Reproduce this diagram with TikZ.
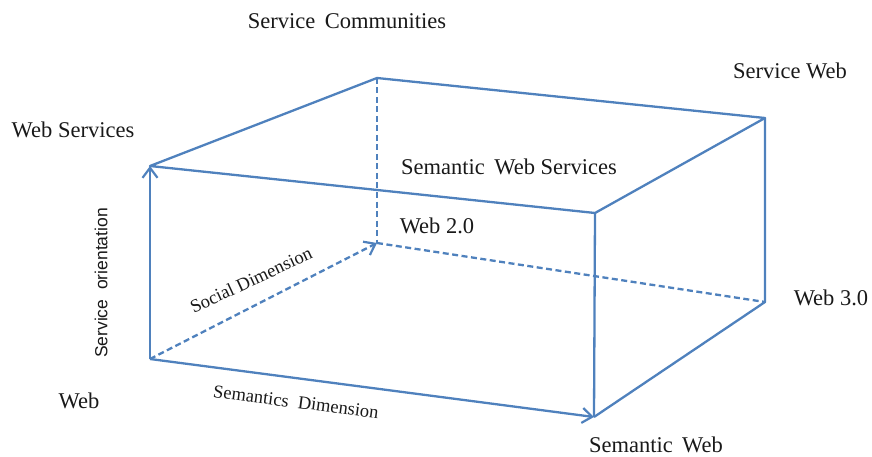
\documentclass[tikz,border=0pt]{standalone}
\usepackage{fontspec}
\setmainfont{Liberation Serif}
\newfontfamily\axisfont{Liberation Sans}
\usetikzlibrary{arrows.meta}
\definecolor{edgeblue}{RGB}{79,129,189}
\begin{document}
\begin{tikzpicture}[x=1pt,y=-1pt,
  edge/.style={draw=edgeblue, line width=2.3pt, line join=round},
  hidden/.style={edge, dash pattern=on 6pt off 3.5pt},
  axis/.style={-{Straight Barb[length=10pt,width=15pt,line width=2.2pt]}},
  lbl/.style={font=\fontsize{22.5}{26}\selectfont, inner sep=0pt, text=black!90},
  dimlbl/.style={font=\fontsize{18.5}{22}\selectfont, inner sep=0pt, text=black!90}]
\useasboundingbox (0,0) rectangle (872,457);

% corners of the box
\coordinate (O)   at (150,359);
\coordinate (FTL) at (150,166);
\coordinate (FBR) at (594,417);
\coordinate (FTR) at (595,213);
\coordinate (BBL) at (377,243);
\coordinate (BTL) at (377,78);
\coordinate (BTR) at (765,118);
\coordinate (BBR) at (765,302);

% hidden edges
\draw[hidden] (BTL) -- (BBL);
\draw[hidden] (BBL) -- (BBR);
\draw[hidden, axis] (O) -- (BBL);

% visible edges
\draw[edge] (FTL) -- (BTL) -- (BTR) -- (FTR) -- cycle;
\draw[edge] (FTR) -- (FBR);
\draw[edge] (BTR) -- (BBR) -- (FBR);
\draw[edge, axis] (O) -- (FTL);
\draw[edge, axis] (O) -- (FBR);

% corner labels
\node[lbl] (lcomm) at (347,21)  {Service\, Communities};
\node[lbl] (lsweb) at (790,71)  {Service Web};
\node[lbl] (lws)   at (73,130)  {Web Services};
\node[lbl] (lsws)  at (509,167) {Semantic\, Web Services};
\node[lbl] (lw2)   at (437,226) {Web 2.0};
\node[lbl] (lw3)   at (831,298) {Web 3.0};
\node[lbl] (lweb)  at (79,401)  {Web};
\node[lbl] (lsem)  at (656,445) {Semantic\, Web};

% axis labels
\node[dimlbl, font=\axisfont\fontsize{17.5}{20}\selectfont, rotate=90] (lso) at (101,283) {Service\ \ orientation};
\node[dimlbl, rotate=25] (lsoc) at (251,280) {Social Dimension};
\node[dimlbl, rotate=-7.5] (lsd) at (296,402) {Semantics\ \ Dimension};
\end{tikzpicture}
\end{document}
